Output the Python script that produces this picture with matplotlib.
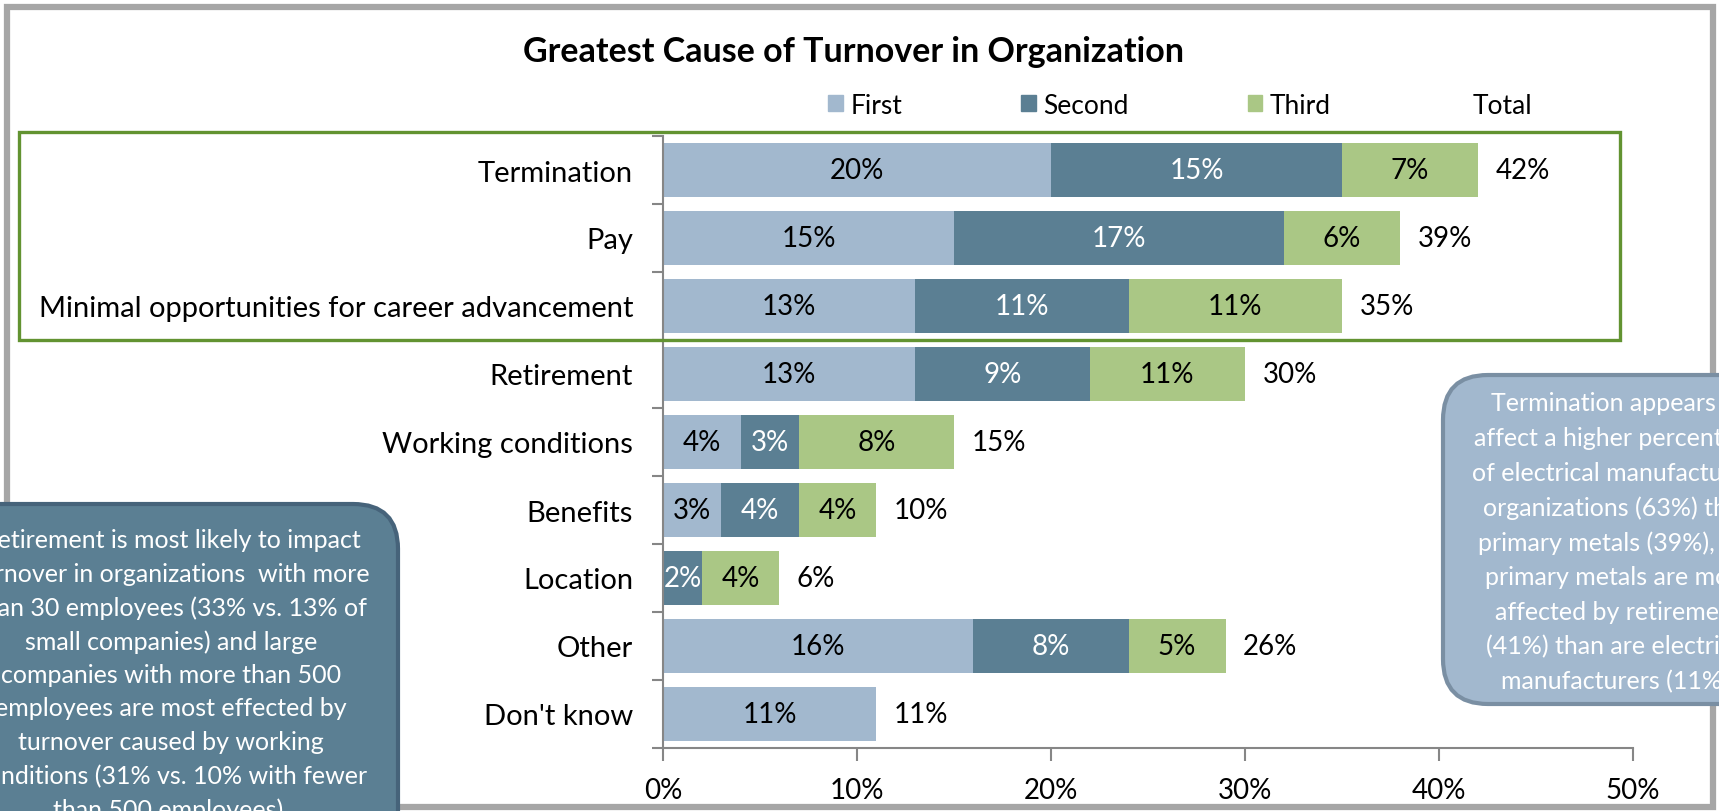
import matplotlib
matplotlib.use("Agg")
import matplotlib.pyplot as plt
from matplotlib.patches import Patch, Rectangle, FancyBboxPatch

# Data (percent)
categories = ["Termination", "Pay", "Minimal opportunities for career advancement",
              "Retirement", "Working conditions", "Benefits", "Location", "Other",
              "Don't know"]
first = [20, 15, 13, 13, 4, 3, 0, 16, 11]
second = [15, 17, 11, 9, 3, 4, 2, 8, 0]
third = [7, 6, 11, 8, 8, 4, 4, 5, 0]
# labels as printed on the chart (they don't always match the bar widths)
first_lbl = ["20%", "15%", "13%", "13%", "4%", "3%", "", "16%", "11%"]
second_lbl = ["15%", "17%", "11%", "9%", "3%", "4%", "2%", "8%", ""]
third_lbl = ["7%", "6%", "11%", "11%", "8%", "4%", "4%", "5%", ""]
total_lbl = ["42%", "39%", "35%", "30%", "15%", "10%", "6%", "26%", "11%"]
series_names = ["First", "Second", "Third", "Total"]
xticks = [0, 10, 20, 30, 40, 50]

left_note = ["Retirement is most likely to impact",
             "turnover in organizations  with more",
             "than 30 employees (33% vs. 13% of",
             "small companies) and large",
             "companies with more than 500",
             "employees are most effected by",
             "turnover caused by working",
             "conditions (31% vs. 10% with fewer",
             "than 500 employees)."]
right_note = ["Termination appears to",
              "affect a higher percentage",
              "of electrical manufacturing",
              "organizations (63%) than",
              "primary metals (39%), but",
              "primary metals are more",
              "affected by retirement",
              "(41%) than are electrical",
              "manufacturers (11%)."]

c_first, c_second, c_third = "#A2B8CE", "#5B7F93", "#AAC785"
plt.rcParams['font.family'] = ['Lato', 'DejaVu Sans']
fs = 20

W, H = 1719, 812
fig = plt.figure(figsize=(W / 100, H / 100), dpi=100)
ax = fig.add_axes([663 / W, 1 - 749 / H, 970 / W, 612 / H])

y = list(range(len(categories)))
left2 = [a for a in first]
left3 = [a + b for a, b in zip(first, second)]
ends = [a + b + c for a, b, c in zip(first, second, third)]

b1 = ax.barh(y, first, height=0.8, color=c_first)
b2 = ax.barh(y, second, left=left2, height=0.8, color=c_second)
b3 = ax.barh(y, third, left=left3, height=0.8, color=c_third)

ax.bar_label(b1, labels=first_lbl, label_type='center', fontsize=fs, color='black')
ax.bar_label(b2, labels=second_lbl, label_type='center', fontsize=fs, color='white')
ax.bar_label(b3, labels=third_lbl, label_type='center', fontsize=fs, color='black')
for yi, e, t in zip(y, ends, total_lbl):
    ax.annotate(t, (e, yi), xytext=(12.6, 0), textcoords='offset points',
                ha='left', va='center', fontsize=fs)

ax.set_xlim(0, 50)
ax.set_ylim(len(categories) - 0.5, -0.5)
ax.set_xticks(xticks)
ax.set_xticklabels([f"{v}%" for v in xticks], fontsize=fs)
ax.set_yticks(y)
ax.set_yticklabels(categories, fontsize=21)
ax.set_yticks([i + 0.5 for i in range(-1, len(categories))], minor=True)
ax.tick_params(axis='y', which='major', length=0, pad=21.5)
ax.tick_params(axis='y', which='minor', length=8, width=1.5, color='#868686')
ax.tick_params(axis='x', length=9, width=1.5, color='#868686', pad=12)
for s in ['top', 'right']:
    ax.spines[s].set_visible(False)
for s in ['left', 'bottom']:
    ax.spines[s].set_color('#868686')
    ax.spines[s].set_linewidth(1.5)

fig.text(853 / W, 1 - 52 / H, "Greatest Cause of Turnover in Organization",
         ha='center', va='center', fontsize=24.5, fontweight='bold')

handles = [Patch(color=c_first), Patch(color=c_second), Patch(color=c_third),
           Patch(fc='none', ec='none')]
fig.legend(handles, series_names, loc='center', bbox_to_anchor=(1180 / W, 1 - 106 / H),
           ncol=4, frameon=False, fontsize=19, handlelength=0.55, handleheight=0.55,
           handletextpad=0.3, columnspacing=4.5)

# overlay in pixel units for the frame, highlight box and callouts
ov = fig.add_axes([0, 0, 1, 1], zorder=5)
ov.set_xlim(0, W)
ov.set_ylim(H, 0)
ov.axis('off')

ov.add_patch(Rectangle((7, 8), 1706, 800, fill=False, ec='#A6A6A6', lw=4.5))
ov.add_patch(Rectangle((19, 133), 1601, 208, fill=False, ec='#629331', lw=2.4))

ov.add_patch(FancyBboxPatch((-56, 505), 454, 420,
                            boxstyle="round,pad=0,rounding_size=45",
                            fc=c_second, ec='#46637A', lw=3))
for i, line in enumerate(left_note):
    ov.text(171, 541 + i * 33.6, line, ha='center', va='center', color='white', fontsize=18)

ov.add_patch(FancyBboxPatch((1443, 376), 360, 329,
                            boxstyle="round,pad=0,rounding_size=45",
                            fc=c_first, ec='#7A8FA3', lw=3))
for i, line in enumerate(right_note):
    ov.text(1618, 404 + i * 34.7, line, ha='center', va='center', color='white', fontsize=18)

fig.savefig("out.png", dpi=100)
